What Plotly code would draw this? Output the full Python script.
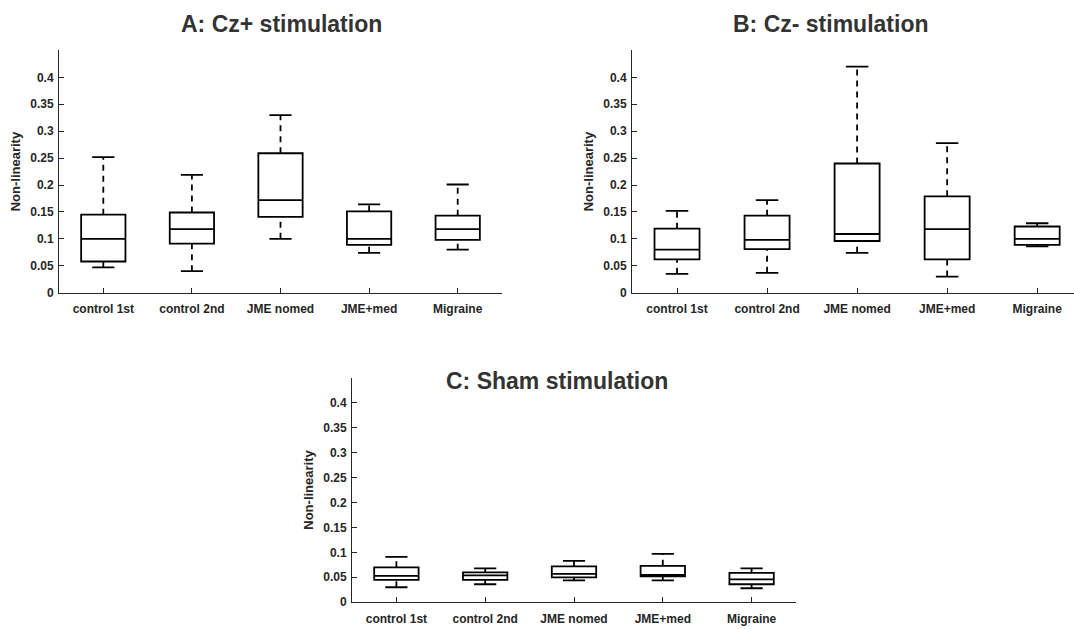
import plotly.graph_objects as go

categories = ["control 1st", "control 2nd", "JME nomed", "JME+med", "Migraine"]
positions = [1, 2, 3, 4, 5]

# Panel A: Cz+ stimulation
a_lower = [0.047, 0.040, 0.100, 0.074, 0.080]
a_q1 = [0.058, 0.091, 0.141, 0.089, 0.098]
a_median = [0.100, 0.118, 0.172, 0.100, 0.118]
a_q3 = [0.145, 0.149, 0.259, 0.151, 0.143]
a_upper = [0.252, 0.219, 0.330, 0.164, 0.201]

# Panel B: Cz- stimulation
b_lower = [0.035, 0.037, 0.074, 0.030, 0.086]
b_q1 = [0.062, 0.081, 0.096, 0.062, 0.089]
b_median = [0.080, 0.098, 0.109, 0.118, 0.100]
b_q3 = [0.119, 0.143, 0.240, 0.179, 0.123]
b_upper = [0.152, 0.172, 0.420, 0.278, 0.129]

# Panel C: Sham stimulation
c_lower = [0.030, 0.036, 0.044, 0.044, 0.028]
c_q1 = [0.045, 0.045, 0.050, 0.052, 0.036]
c_median = [0.053, 0.054, 0.057, 0.055, 0.046]
c_q3 = [0.070, 0.060, 0.072, 0.073, 0.059]
c_upper = [0.091, 0.068, 0.083, 0.097, 0.068]

titles = ["A: Cz+ stimulation", "B: Cz- stimulation", "C: Sham stimulation"]
y_tickvals = [0, 0.05, 0.1, 0.15, 0.2, 0.25, 0.3, 0.35, 0.4]
y_ticktext = ["0", "0.05", "0.1", "0.15", "0.2", "0.25", "0.3", "0.35", "0.4"]
y_label = "Non-linearity"

FONT = "Liberation Sans, Arial, Helvetica, sans-serif"
TXT = "#262626"
LW = 1.8
BOXW = 0.5
CAP = 0.125

panels = [
    ("x", "y", a_lower, a_q1, a_median, a_q3, a_upper),
    ("x2", "y2", b_lower, b_q1, b_median, b_q3, b_upper),
    ("x3", "y3", c_lower, c_q1, c_median, c_q3, c_upper),
]

fig = go.Figure()
for xa, ya, lo, q1, med, q3, up in panels:
    # dashed whiskers
    wx, wy = [], []
    for p, l, a, b, u in zip(positions, lo, q1, q3, up):
        wx += [p, p, None, p, p, None]
        wy += [b, u, None, l, a, None]
    fig.add_trace(go.Scatter(x=wx, y=wy, mode="lines", xaxis=xa, yaxis=ya,
                             line=dict(color="black", width=LW, dash="6px,5px"),
                             showlegend=False, hoverinfo="skip"))
    # caps
    cx, cy = [], []
    for p, l, u in zip(positions, lo, up):
        cx += [p - CAP, p + CAP, None, p - CAP, p + CAP, None]
        cy += [u, u, None, l, l, None]
    fig.add_trace(go.Scatter(x=cx, y=cy, mode="lines", xaxis=xa, yaxis=ya,
                             line=dict(color="black", width=LW),
                             showlegend=False, hoverinfo="skip"))
    # boxes
    fig.add_trace(go.Box(x=positions, q1=q1, median=med, q3=q3,
                         lowerfence=q1, upperfence=q3, width=BOXW,
                         whiskerwidth=0, boxpoints=False,
                         xaxis=xa, yaxis=ya,
                         line=dict(color="black", width=LW),
                         fillcolor="rgba(255,255,255,0)",
                         showlegend=False))

W, H = 1074, 629
def px_x(a, b):
    return [a / W, b / W]
def px_y(top, bottom):
    return [1 - bottom / H, 1 - top / H]

axis_common = dict(showline=True, linecolor=TXT, linewidth=1, ticks="inside",
                   ticklen=5, tickcolor=TXT, tickwidth=1, showgrid=False,
                   zeroline=False, mirror=False,
                   tickfont=dict(family=FONT, size=12, color=TXT, weight="bold"))

xdom = [px_x(59, 502), px_x(632, 1074), px_x(352, 796)]
ydom = [px_y(51, 296), px_y(51, 296), px_y(382, 609)]
xranges = [[0.5, 5.5], [0.5, 5.409], [0.5, 5.5]]
names = ["", "2", "3"]

layout = dict(width=W, height=H, margin=dict(l=0, r=0, t=0, b=0),
              paper_bgcolor="white", plot_bgcolor="white", showlegend=False)
for i, n in enumerate(names):
    layout["xaxis" + n] = dict(axis_common, domain=xdom[i], range=xranges[i],
                               tickvals=positions, ticktext=categories,
                               anchor="y" + n, ticklabelstandoff=5)
    layout["yaxis" + n] = dict(axis_common, domain=ydom[i], range=[0, 0.45],
                               tickvals=y_tickvals, ticktext=y_ticktext,
                               anchor="x" + n, ticklabelstandoff=2,
                               title=dict(text=y_label, standoff=6,
                                          font=dict(family=FONT, size=13,
                                                    color=TXT, weight="bold")))
fig.update_layout(**layout)

title_pos = [(281, 24), (831, 24), (557, 385)]
for t, (tx, ty) in zip(titles, title_pos):
    fig.add_annotation(text=t, x=tx / W, y=1 - ty / H, xref="paper", yref="paper",
                       showarrow=False, xanchor="center", yanchor="middle",
                       font=dict(family=FONT, size=23, color="#333333", weight="bold"))

fig.write_html("out.html")
